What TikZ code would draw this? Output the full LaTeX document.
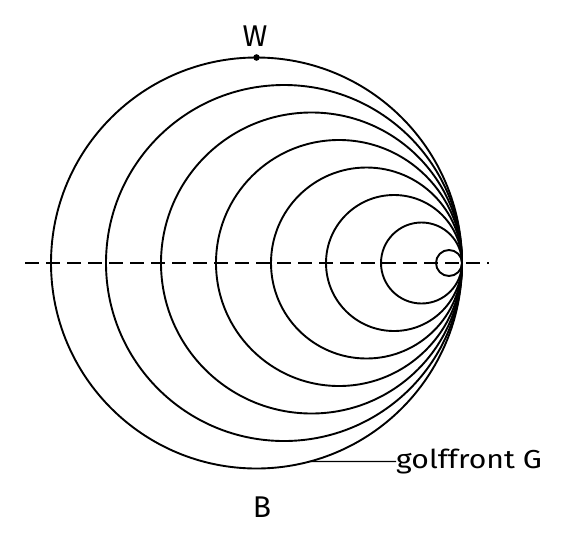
\documentclass[tikz,border=0pt]{standalone}
\usepackage{fontspec}
\setmainfont{Fira Sans}
\usetikzlibrary{calc}
\begin{document}
\begin{tikzpicture}[x=1pt,y=-1pt,
  circ/.style={line width=1.9pt},
  axis/.style={line width=1.2pt,dash pattern=on 14pt off 7pt},
  leader/.style={line width=1.2pt},
  lbl/.style={inner sep=0pt,font=\fontsize{30}{33}\selectfont}]
\useasboundingbox (0,0) rectangle (564,552);
\coordinate (T) at (462,263);
\draw[axis] (25,263) coordinate (A1) -- (489,263) coordinate (A2);
\foreach \k in {0,...,7}{
  \pgfmathsetmacro{\r}{205.5-27.5*\k}
  \draw[circ] (462-\r,263) circle[radius=\r];
}
\coordinate (C0) at (256.5,263);
\fill (C0) ++(0,-205.5) coordinate (Wp) circle[radius=3.3];
\node[lbl] (W) at (255,36) {W};
\node[lbl] (B) at (262,507.5) {B};
\coordinate (Gs) at ($(C0)+(75:205.5)$);
\node[inner sep=0pt,anchor=west,font=\fontsize{26}{28}\selectfont] (G) at (396,461.5) {\scalebox{1.16}[1]{golffront G}};
\draw[leader] (Gs) -- (G.west);
\end{tikzpicture}
\end{document}
